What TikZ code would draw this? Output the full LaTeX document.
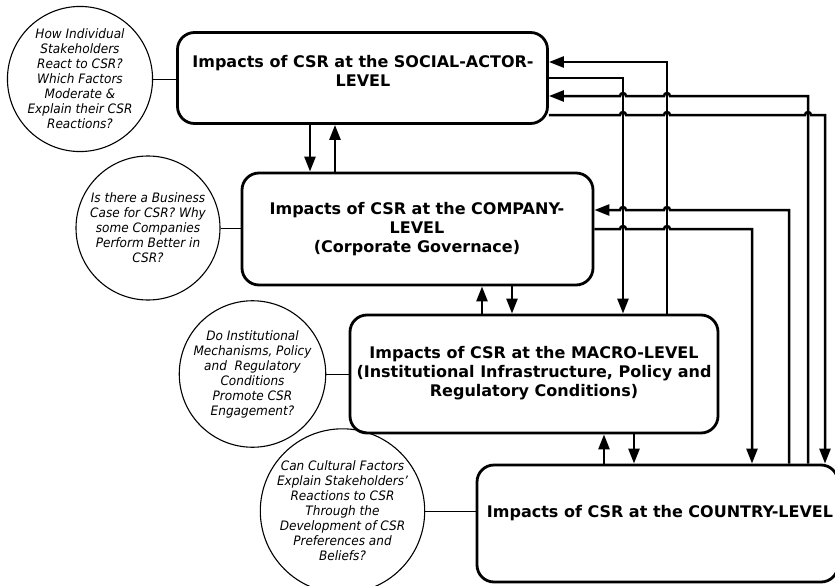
\documentclass[tikz,border=0pt]{standalone}
\usepackage{fontspec}
\setmainfont{DejaVu Sans}
\newfontfamily\boxfont{DejaVu Sans}
\newfontfamily\qfont{DejaVu Sans}[FakeStretch=0.93]
\usetikzlibrary{arrows.meta,calc}
\tikzset{
  lvlbox/.style={draw, line width=2.8pt, rounded corners=17pt, inner sep=0pt},
  btext/.style={font=\boxfont\bfseries\fontsize{16}{19}\selectfont, align=center, inner sep=0pt},
  qcirc/.style={draw, circle, line width=1.1pt, inner sep=0pt, font=\qfont\itshape\fontsize{13}{15}\selectfont, align=center},
  thin/.style={line width=1pt},
  conn/.style={line width=2.5pt, -{Triangle[length=15pt,width=11pt]}},
  plain/.style={line width=2.5pt}
}
\begin{document}
\begin{tikzpicture}[x=1pt,y=-1pt]
\useasboundingbox (0,0) rectangle (835,586);
% boxes
\node[lvlbox, minimum width=370pt, minimum height=91pt] (social) at (362.5,78) {};
\node[lvlbox, minimum width=351pt, minimum height=112pt] (company) at (417.5,229) {};
\node[lvlbox, minimum width=368pt, minimum height=118pt] (macro) at (534,374) {};
\node[lvlbox, minimum width=361pt, minimum height=117pt] (country) at (657.5,523.5) {};
% box texts
\node[btext] (tsocial) at (363,71) {Impacts of CSR at the SOCIAL-ACTOR-\\LEVEL};
\node[btext] (tcompany) at (417,229) {Impacts of CSR at the COMPANY-\\LEVEL\\(Corporate Governace)};
\node[btext] (tmacro) at (534,373) {Impacts of CSR at the MACRO-LEVEL\\(Institutional Infrastructure, Policy and\\Regulatory Conditions)};
\node[btext] (tcountry) at (660,513) {Impacts of CSR at the COUNTRY-LEVEL};
% circles
\node[qcirc, minimum size=136pt] (q1) at (80,79) {How Individual\\Stakeholders\\React to CSR?\\Which Factors\\Moderate \&\\Explain their CSR\\Reactions?};
\node[qcirc, minimum size=144pt] (q2) at (148,228) {Is there a Business\\Case for CSR? Why\\some Companies\\Perform Better in\\CSR?};
\node[qcirc, minimum size=139pt] (q3) at (252.5,374) {Do Institutional\\Mechanisms, Policy\\and~~Regulatory\\Conditions\\Promote CSR\\Engagement?};
\node[qcirc, minimum size=155pt] (q4) at (342.5,511) {Can Cultural Factors\\Explain Stakeholders’\\Reactions to CSR\\Through the\\Development of CSR\\Preferences and\\Beliefs?};
% circle links
\draw[thin] (q1.east) -- (social.west |- q1.east);
\draw[thin] (q2.east) -- (company.west |- q2.east);
\draw[thin] (q3.east) -- (macro.west |- q3.east);
\draw[thin] (q4.east) -- (country.west |- q4.east);
% coordinates for connector lanes
\coordinate (a1) at (310,0);
\coordinate (a2) at (335,0);
\coordinate (b1) at (482,0);
\coordinate (b2) at (512,0);
\coordinate (d1) at (604,0);
\coordinate (d2) at (634,0);
\coordinate (v1) at (623,0);
\coordinate (v2) at (667,0);
\coordinate (v3) at (752,0);
\coordinate (v4) at (789,0);
\coordinate (v5) at (808,0);
\coordinate (v6) at (825,0);
\coordinate (h1) at (0,62);
\coordinate (h2) at (0,78);
\coordinate (h3) at (0,96);
\coordinate (h4) at (0,115);
\coordinate (h5) at (0,210);
\coordinate (h6) at (0,229);
% adjacent level arrows
\draw[conn] (social.south -| a1) -- (company.north -| a1);
\draw[conn] (company.north -| a2) -- (social.south -| a2);
\draw[conn] (macro.north -| b1) -- (company.south -| b1);
\draw[conn] (company.south -| b2) -- (macro.north -| b2);
\draw[conn] (country.north -| d1) -- (macro.south -| d1);
\draw[conn] (macro.south -| d2) -- (country.north -| d2);
% social <-> macro
\draw[conn] (social.east |- h2) -| (macro.north -| v1);
\draw[conn] (macro.north -| v2) |- (social.east |- h1);
% country -> social (hops over v2, v1)
\draw[conn] (country.north -| v5) -- (v5 |- h3)
  -- ($(v2 |- h3)+(3,0)$) arc[start angle=0,end angle=180,radius=3pt]
  -- ($(v1 |- h3)+(3,0)$) arc[start angle=0,end angle=180,radius=3pt]
  -- (social.east |- h3);
% social -> country (hops over v1, v2, v5)
\draw[conn] (social.east |- h4)
  -- ($(v1 |- h4)+(-3,0)$) arc[start angle=180,end angle=0,radius=3pt]
  -- ($(v2 |- h4)+(-3,0)$) arc[start angle=180,end angle=0,radius=3pt]
  -- ($(v5 |- h4)+(-3,0)$) arc[start angle=180,end angle=0,radius=3pt]
  -- (v6 |- h4) -- (country.north -| v6);
% country -> company (hops over v2, v1)
\draw[conn] (country.north -| v4) -- (v4 |- h5)
  -- ($(v2 |- h5)+(3,0)$) arc[start angle=0,end angle=180,radius=3pt]
  -- ($(v1 |- h5)+(3,0)$) arc[start angle=0,end angle=180,radius=3pt]
  -- (company.east |- h5);
% company -> country (hops over v1, v2)
\draw[conn] (company.east |- h6)
  -- ($(v1 |- h6)+(-3,0)$) arc[start angle=180,end angle=0,radius=3pt]
  -- ($(v2 |- h6)+(-3,0)$) arc[start angle=180,end angle=0,radius=3pt]
  -- (v3 |- h6) -- (country.north -| v3);
\end{tikzpicture}
\end{document}
